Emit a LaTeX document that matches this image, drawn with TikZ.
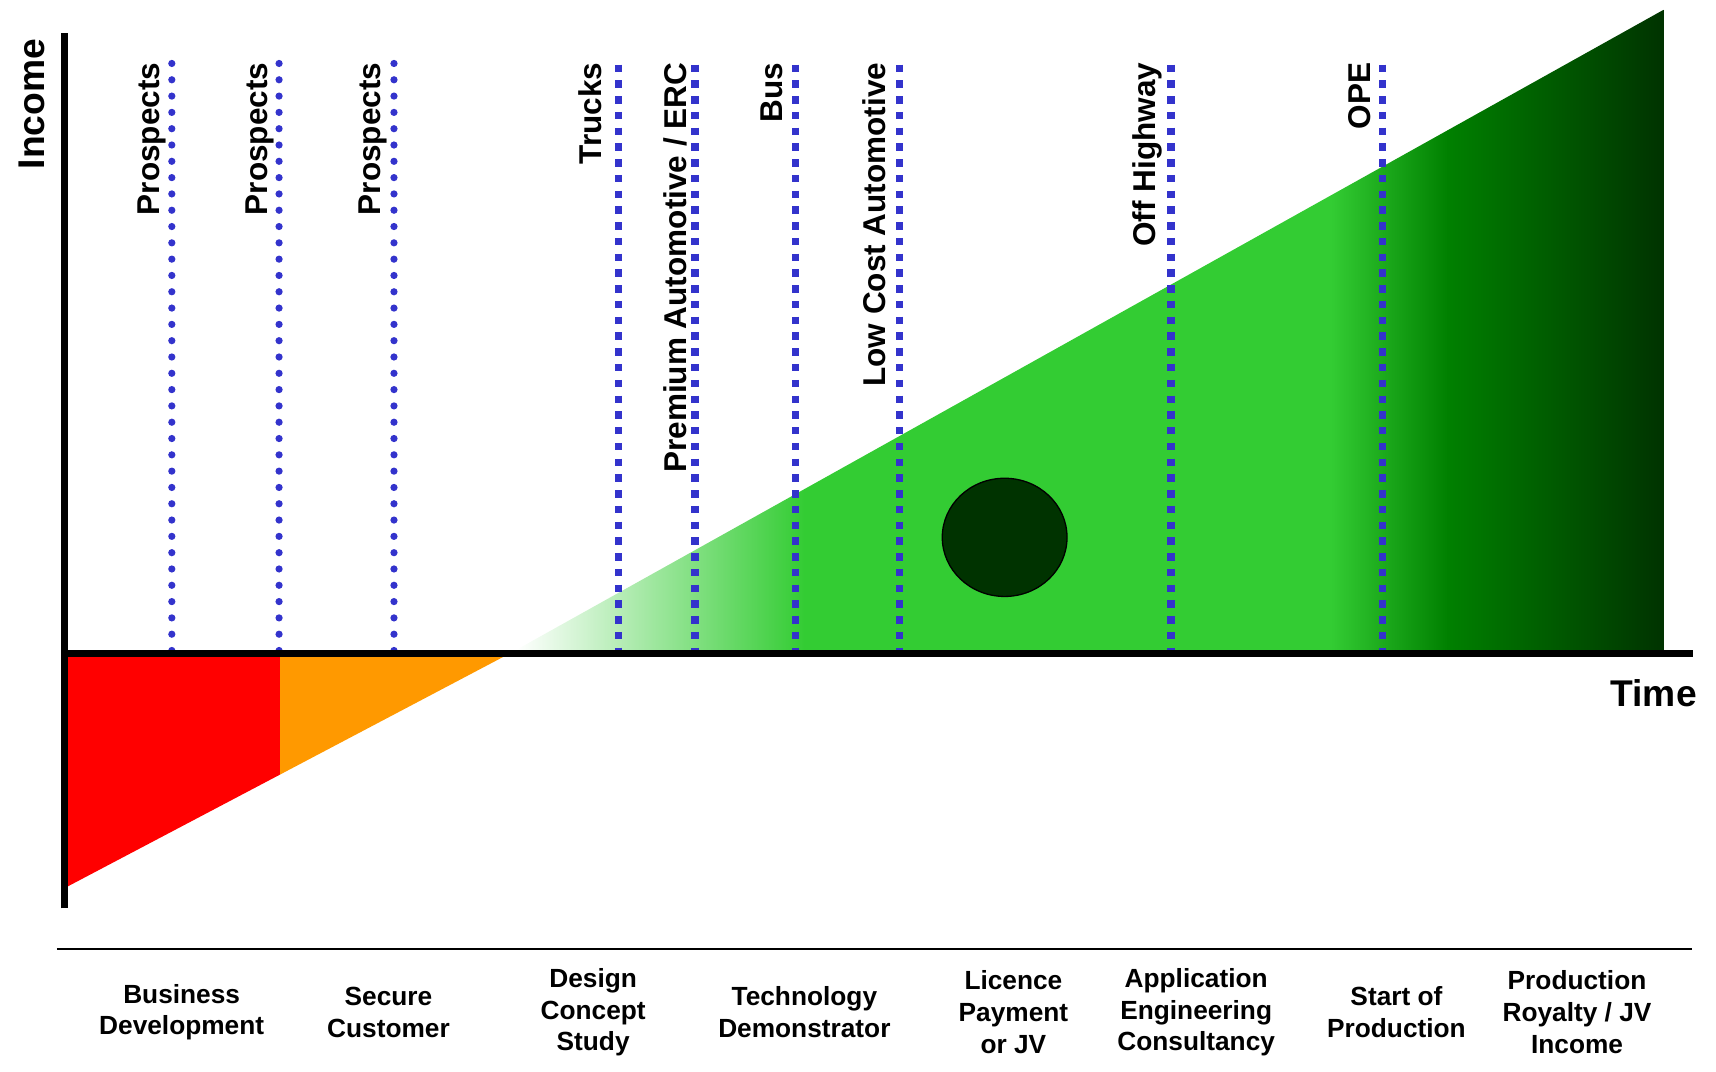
\documentclass[tikz,border=0pt]{standalone}
\usepackage{fontspec}
\setmainfont{Liberation Sans}
\usepackage{tikz}
\usetikzlibrary{shapes.geometric}
\definecolor{dotblue}{HTML}{3333CC}
\definecolor{lossred}{HTML}{FF0000}
\definecolor{lossorange}{HTML}{FF9900}
\definecolor{gainlight}{HTML}{33CC33}
\definecolor{gainmid}{HTML}{008000}
\definecolor{gaindark}{HTML}{003300}

\begin{document}
\begin{tikzpicture}
[every node/.style={inner sep=0pt, font=\bfseries},
 market/.style={rotate=90, anchor=base east, font=\fontsize{14.4}{17}\selectfont\bfseries},
 stage/.style={align=center, font=\fontsize{12}{14.5}\selectfont\bfseries},
 axistitle/.style={anchor=base, font=\fontsize{17}{20}\selectfont\bfseries},
 prospectline/.style={line width=3.3pt, color=dotblue, line cap=round, dash pattern=on 0pt off 7.45pt},
 sectorline/.style={line width=3.4pt, color=dotblue, dash pattern=on 3.4pt off 3.8pt}]
\useasboundingbox (0pt, 0pt) rectangle (784pt, -489.5pt);
% loss wedge below the axis
\fill [color=lossred] (29.5pt, -298.5pt) -- (128pt, -298.5pt) -- (128pt, -353.85pt) -- (29.5pt, -405.75pt) -- cycle;
\fill [color=lossorange] (128pt, -298.5pt) -- (233pt, -298.5pt) -- (128pt, -353.85pt) -- cycle;
% income wedge above the axis
\begin{scope}
\clip (233pt, -298.5pt) -- (760pt, -298.5pt) -- (760pt, -4.5pt) -- cycle;
\shade [left color=white, right color=gainlight] (236pt, 0pt) rectangle (367.7pt, -300pt);
\fill [color=white] (232pt, 0pt) rectangle (236.2pt, -300pt);
\fill [color=gainlight] (367.5pt, 0pt) rectangle (608.2pt, -300pt);
\shade [left color=gainlight, right color=gainmid] (608pt, 0pt) rectangle (661.7pt, -300pt);
\shade [left color=gainmid, right color=gaindark] (661.5pt, 0pt) rectangle (760pt, -300pt);
\end{scope}
\node (licence) [ellipse, minimum width=57pt, minimum height=54pt, fill=gaindark, line width=0.6pt, draw=black] at (459pt, -245.5pt) {};
% market lines
\coordinate (p1top) at (78.5pt, -29pt);
\coordinate (p1bot) at (78.5pt, -300pt);
\coordinate (p2top) at (127.5pt, -29pt);
\coordinate (p2bot) at (127.5pt, -300pt);
\coordinate (p3top) at (180pt, -29pt);
\coordinate (p3bot) at (180pt, -300pt);
\coordinate (truckstop) at (282.5pt, -29.5pt);
\coordinate (trucksbot) at (282.5pt, -298.5pt);
\coordinate (premiumtop) at (317.5pt, -29.5pt);
\coordinate (premiumbot) at (317.5pt, -298.5pt);
\coordinate (bustop) at (363.5pt, -29.5pt);
\coordinate (busbot) at (363.5pt, -298.5pt);
\coordinate (lowcosttop) at (411pt, -29.5pt);
\coordinate (lowcostbot) at (411pt, -298.5pt);
\coordinate (offhwytop) at (535pt, -29.5pt);
\coordinate (offhwybot) at (535pt, -298.5pt);
\coordinate (opetop) at (631.5pt, -29.5pt);
\coordinate (opebot) at (631.5pt, -298.5pt);
\draw [prospectline] (p1top) to (p1bot);
\draw [prospectline] (p2top) to (p2bot);
\draw [prospectline] (p3top) to (p3bot);
\draw [sectorline] (truckstop) to (trucksbot);
\draw [sectorline] (premiumtop) to (premiumbot);
\draw [sectorline] (bustop) to (busbot);
\draw [sectorline] (lowcosttop) to (lowcostbot);
\draw [sectorline] (offhwytop) to (offhwybot);
\draw [sectorline] (opetop) to (opebot);
\node (p1) [market] at (73pt, -28.5pt) {Prospects};
\node (p2) [market] at (122pt, -28.5pt) {Prospects};
\node (p3) [market] at (174pt, -28.5pt) {Prospects};
\node (trucks) [market] at (275pt, -28.5pt) {Trucks};
\node (premium) [market] at (313.5pt, -28.5pt) {Premium Automotive / ERC};
\node (bus) [market] at (357.5pt, -28.5pt) {Bus};
\node (lowcost) [market] at (404.5pt, -28.5pt) {Low Cost Automotive};
\node (offhwy) [market] at (528pt, -28.5pt) {Off Highway};
\node (ope) [market] at (626pt, -28.5pt) {OPE};
% axes
\coordinate (origin) at (29.5pt, -298.5pt);
\coordinate (ytop) at (29.5pt, -15pt);
\coordinate (ybot) at (29.5pt, -415pt);
\coordinate (xend) at (773.5pt, -298.5pt);
\draw [line width=3.5pt, color=black] (ybot) to (ytop);
\draw [line width=3.5pt, color=black] (origin) to (xend);
\node (income) [axistitle, rotate=90] at (20.5pt, -47.5pt) {Income};
\node (time) [axistitle] at (755.5pt, -323pt) {Time};
% stages
\coordinate (rulel) at (26pt, -433.5pt);
\coordinate (ruler) at (773pt, -433.5pt);
\draw [line width=1pt, color=black] (rulel) to (ruler);
\node (busdev) [stage] at (83pt, -462.5pt) {Business\\Development};
\node (secure) [stage] at (177.5pt, -462.5pt) {Secure\\Customer};
\node (design) [stage] at (271pt, -462.5pt) {Design\\Concept\\Study};
\node (demo) [stage] at (367.5pt, -462.5pt) {Technology\\Demonstrator};
\node (payment) [stage] at (463pt, -462.5pt) {Licence\\Payment\\or JV};
\node (consult) [stage] at (546.5pt, -462.5pt) {Application\\Engineering\\Consultancy};
\node (sop) [stage] at (638pt, -462.5pt) {Start of\\Production};
\node (royalty) [stage] at (720.5pt, -462.5pt) {Production\\Royalty / JV\\Income};
\end{tikzpicture}
\end{document}
